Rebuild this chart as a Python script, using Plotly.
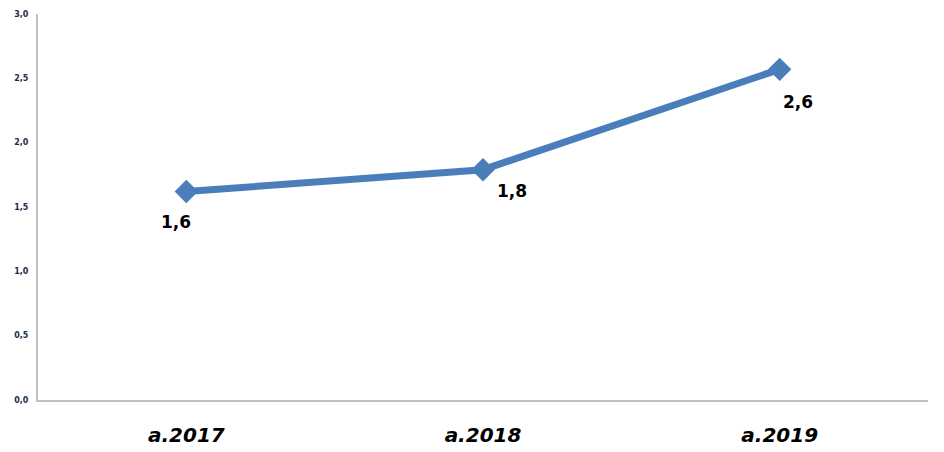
import plotly.graph_objects as go

categories = ["a.2017", "a.2018", "a.2019"]
values = [1.62, 1.79, 2.57]
labels = ["1,6", "1,8", "2,6"]
y_ticks = [0, 0.5, 1.0, 1.5, 2.0, 2.5, 3.0]
y_tick_text = ["0,0", "0,5", "1,0", "1,5", "2,0", "2,5", "3,0"]

label_shift = [(-10, -30), (29, -21), (18, -33)]

fig = go.Figure()
fig.add_trace(go.Scatter(
    x=[0, 1, 2], y=values, mode="lines+markers",
    line=dict(color="#4A7EBB", width=7),
    marker=dict(symbol="diamond", size=18, color="#4A7EBB"),
    hoverinfo="skip", showlegend=False,
))
for i, (v, t) in enumerate(zip(values, labels)):
    fig.add_annotation(x=i, y=v, text="<b>%s</b>" % t, showarrow=False,
                       xshift=label_shift[i][0], yshift=label_shift[i][1],
                       font=dict(family="DejaVu Sans", size=17, color="#000000"))

fig.update_layout(
    width=936, height=444,
    margin=dict(l=30, r=16, t=6, b=52),
    paper_bgcolor="white", plot_bgcolor="white",
    xaxis=dict(range=[-0.5, 2.5], tickvals=[0, 1, 2], ticktext=["<b><i>%s</i></b>" % c for c in categories],
               showgrid=False, zeroline=False, showline=True, linecolor="#BFBFBF", linewidth=2,
               ticks="", ticklabelstandoff=16, automargin=False,
               tickfont=dict(family="DejaVu Sans", size=20, color="#000000")),
    yaxis=dict(range=[0, 3], tickvals=y_ticks, ticktext=["<b>%s</b>" % t for t in y_tick_text],
               showgrid=False, zeroline=False, showline=True, linecolor="#BFBFBF", linewidth=2,
               ticks="", ticklabelstandoff=6, automargin=False, ticklabeloverflow="allow",
               tickfont=dict(family="DejaVu Sans", size=8, color="#1F2A44")),
)
fig.write_html("out.html")
